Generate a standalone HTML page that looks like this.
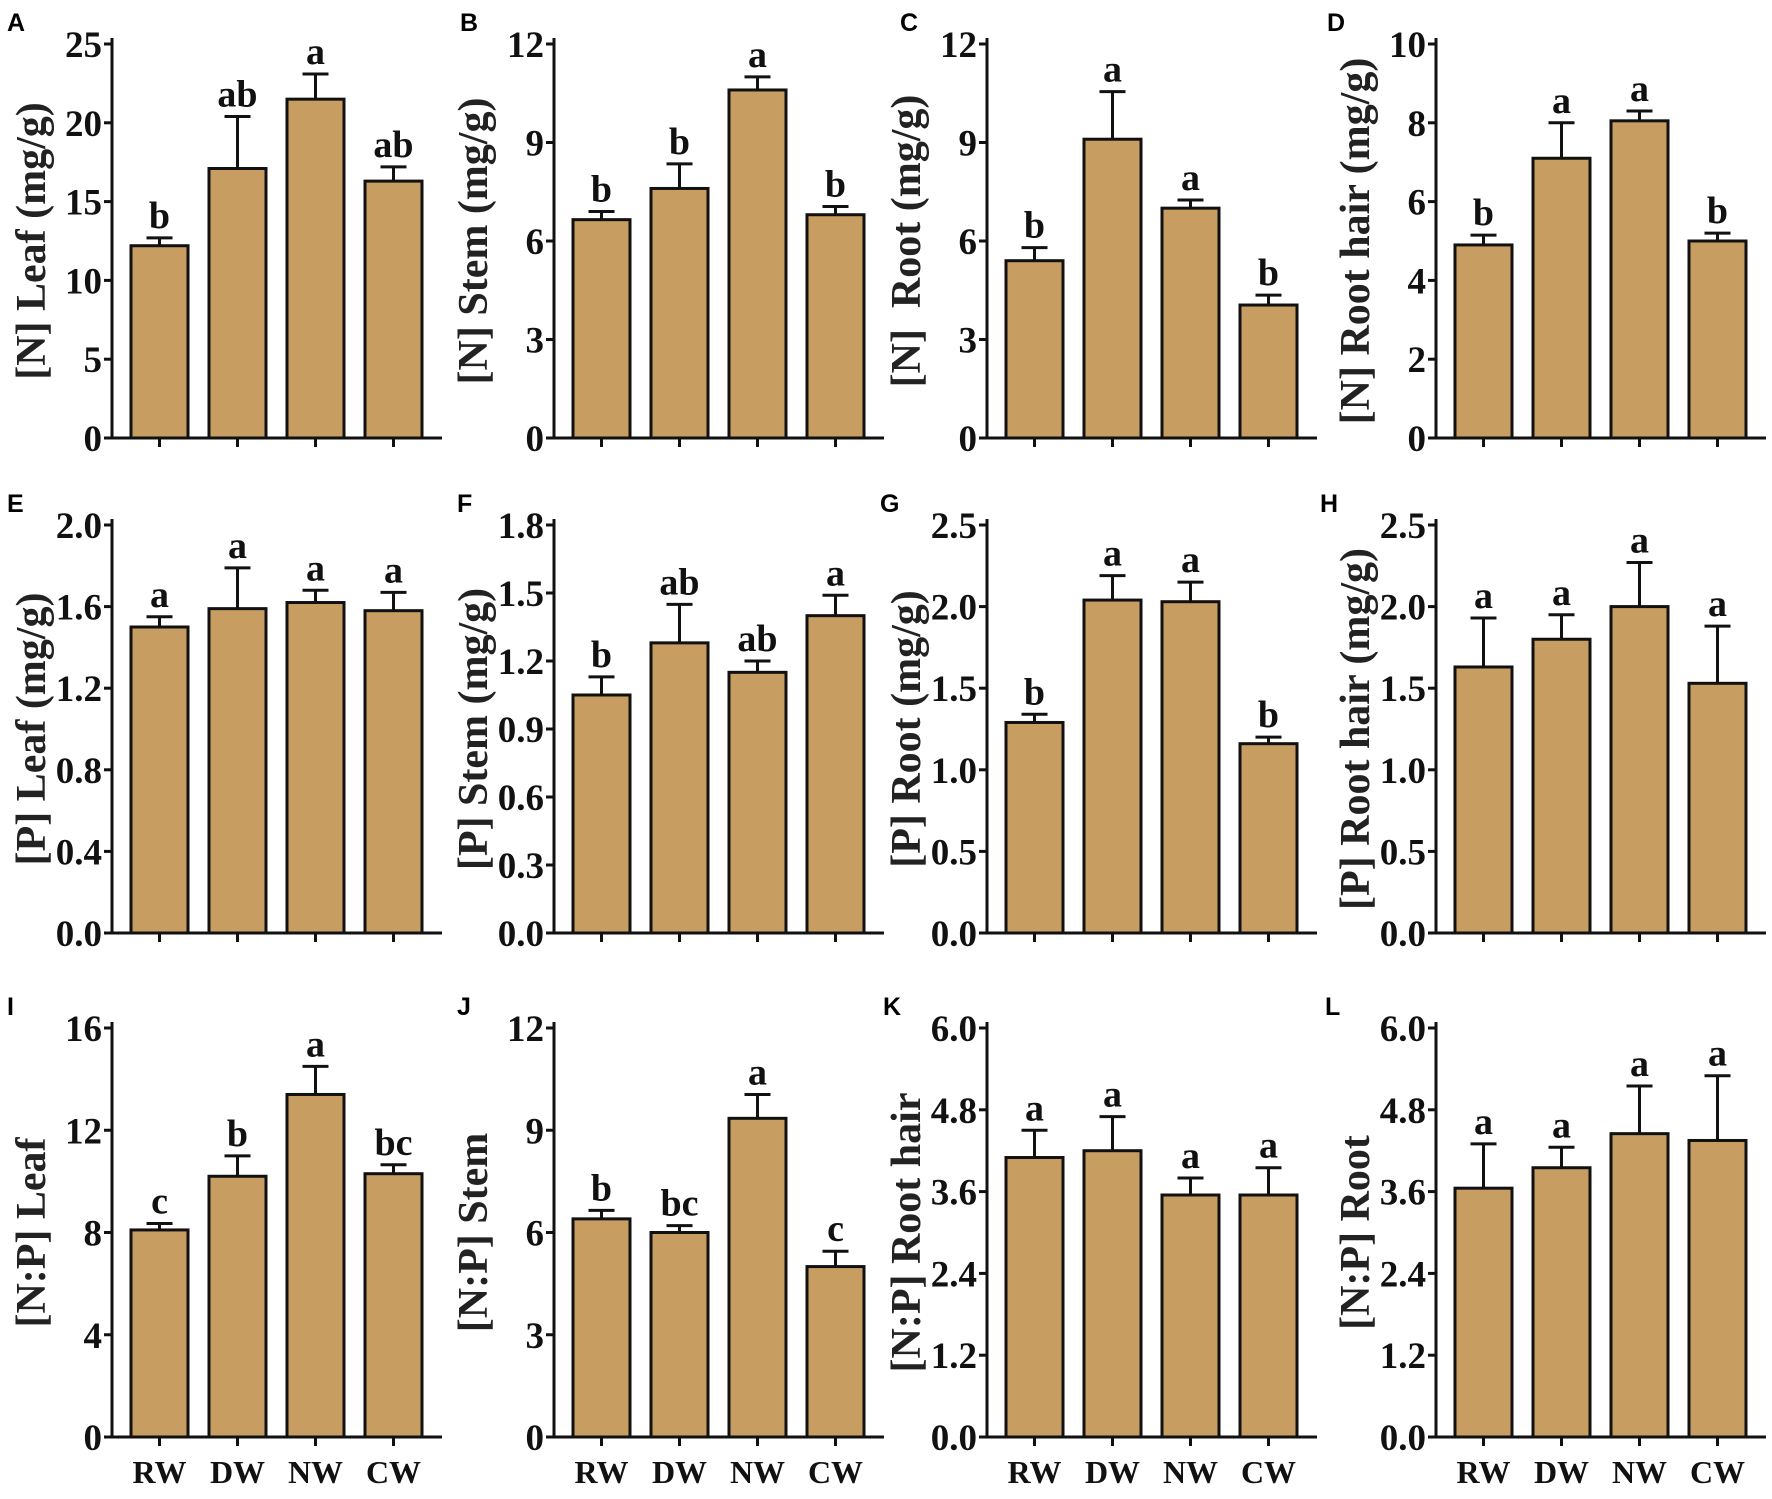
<!DOCTYPE html>
<html><head><meta charset="utf-8">
<style>
html,body{margin:0;padding:0;background:#fff;}
svg{display:block;}
</style></head>
<body>
<svg id="fig" width="1772" height="1499" viewBox="0 0 1772 1499" xmlns="http://www.w3.org/2000/svg"></svg>
<script>
const categories = ["RW","DW","NW","CW"];
const valsA = [12.2, 17.1, 21.5, 16.3]; const errA = [0.5, 3.3, 1.6, 0.9]; const sigA = ["b","ab","a","ab"];
const valsB = [6.65, 7.6, 10.6, 6.8]; const errB = [0.25, 0.75, 0.4, 0.25]; const sigB = ["b","b","a","b"];
const valsC = [5.4, 9.1, 7.0, 4.05]; const errC = [0.4, 1.45, 0.25, 0.3]; const sigC = ["b","a","a","b"];
const valsD = [4.9, 7.1, 8.05, 5.0]; const errD = [0.25, 0.9, 0.25, 0.2]; const sigD = ["b","a","a","b"];
const valsE = [1.5, 1.59, 1.62, 1.58]; const errE = [0.05, 0.2, 0.06, 0.09]; const sigE = ["a","a","a","a"];
const valsF = [1.05, 1.28, 1.15, 1.40]; const errF = [0.08, 0.17, 0.05, 0.09]; const sigF = ["b","ab","ab","a"];
const valsG = [1.29, 2.04, 2.03, 1.16]; const errG = [0.05, 0.15, 0.12, 0.04]; const sigG = ["b","a","a","b"];
const valsH = [1.63, 1.80, 2.0, 1.53]; const errH = [0.3, 0.15, 0.27, 0.35]; const sigH = ["a","a","a","a"];
const valsI = [8.1, 10.2, 13.4, 10.3]; const errI = [0.25, 0.8, 1.1, 0.35]; const sigI = ["c","b","a","bc"];
const valsJ = [6.4, 6.0, 9.35, 5.0]; const errJ = [0.25, 0.2, 0.7, 0.45]; const sigJ = ["b","bc","a","c"];
const valsK = [4.1, 4.2, 3.55, 3.55]; const errK = [0.4, 0.5, 0.25, 0.4]; const sigK = ["a","a","a","a"];
const valsL = [3.65, 3.95, 4.45, 4.35]; const errL = [0.65, 0.3, 0.7, 0.95]; const sigL = ["a","a","a","a"];
const ticksA = [0,5,10,15,20,25];
const ticksB = [0,3,6,9,12];
const ticksD = [0,2,4,6,8,10];
const ticksE = ["0.0","0.4","0.8","1.2","1.6","2.0"];
const ticksF = ["0.0","0.3","0.6","0.9","1.2","1.5","1.8"];
const ticksG = ["0.0","0.5","1.0","1.5","2.0","2.5"];
const ticksI = [0,4,8,12,16];
const ticksK = ["0.0","1.2","2.4","3.6","4.8","6.0"];

const NS = "http://www.w3.org/2000/svg";
const svg = document.getElementById("fig");
const FILL = "#C89D62";
function mk(tag, attrs, parent){
  const e = document.createElementNS(NS, tag);
  for (const k in attrs) e.setAttribute(k, attrs[k]);
  (parent||svg).appendChild(e);
  return e;
}
const colX = [112, 554, 987, 1436];
const rowY = [[438, 44], [933, 525], [1437, 1028]];
const panels = [
  {id:"A",c:0,r:0,v:valsA,e:errA,s:sigA,t:ticksA,title:"[N] Leaf (mg/g)",lx:7},
  {id:"B",c:1,r:0,v:valsB,e:errB,s:sigB,t:ticksB,title:"[N] Stem (mg/g)",lx:460},
  {id:"C",c:2,r:0,v:valsC,e:errC,s:sigC,t:ticksB,title:"[N]  Root (mg/g)",lx:900},
  {id:"D",c:3,r:0,v:valsD,e:errD,s:sigD,t:ticksD,title:"[N] Root hair (mg/g)",lx:1327},
  {id:"E",c:0,r:1,v:valsE,e:errE,s:sigE,t:ticksE,title:"[P] Leaf (mg/g)",lx:7},
  {id:"F",c:1,r:1,v:valsF,e:errF,s:sigF,t:ticksF,title:"[P] Stem (mg/g)",lx:457},
  {id:"G",c:2,r:1,v:valsG,e:errG,s:sigG,t:ticksG,title:"[P] Root (mg/g)",lx:880},
  {id:"H",c:3,r:1,v:valsH,e:errH,s:sigH,t:ticksG,title:"[P] Root hair (mg/g)",lx:1320},
  {id:"I",c:0,r:2,v:valsI,e:errI,s:sigI,t:ticksI,title:"[N:P] Leaf",lx:7},
  {id:"J",c:1,r:2,v:valsJ,e:errJ,s:sigJ,t:ticksB,title:"[N:P] Stem",lx:457},
  {id:"K",c:2,r:2,v:valsK,e:errK,s:sigK,t:ticksK,title:"[N:P] Root hair",lx:883},
  {id:"L",c:3,r:2,v:valsL,e:errL,s:sigL,t:ticksK,title:"[N:P] Root",lx:1325}
];
const SERIF = '"Liberation Serif", serif';
panels.forEach(p => {
  const x0 = colX[p.c], y0 = rowY[p.r][0], yTop = rowY[p.r][1];
  const tmin = parseFloat(p.t[0]), tmax = parseFloat(p.t[p.t.length-1]);
  const yS = v => y0 - (v - tmin) / (tmax - tmin) * (y0 - yTop);
  const xS = i => x0 + 19 + i * 78;
  const g = mk("g", {});
  
  
  const L = mk("text", {x:p.lx, y:yTop - 13, "font-family":'"Liberation Sans", sans-serif', "font-weight":"bold", "font-size":"25"}, g);
  L.textContent = p.id;
  
  
  p.v.forEach((v, i) => {
    const bx = xS(i), top = yS(v), et = yS(v + p.e[i]), cx = bx + 28.5;
    const eb = mk("line", {x1:cx, x2:cx, y1:top, y2:et, stroke:"#111", "stroke-width":"3"}, g);
    
    
    const cap = mk("line", {x1:cx-13, x2:cx+13, y1:et, y2:et, stroke:"#111", "stroke-width":"3"}, g);
    
    
    const r = mk("rect", {x:bx, y:top, width:57, height:y0 - top, fill:FILL, stroke:"#111", "stroke-width":"3"}, g);
    
    
    const s = mk("text", {x:cx, y:et - 10, "text-anchor":"middle", "font-family":SERIF, "font-weight":"bold", "font-size":"38", fill:"#111"}, g);
    s.textContent = p.s[i];
    
    
    const xt = mk("line", {x1:cx, x2:cx, y1:y0, y2:y0 + 9, stroke:"#111", "stroke-width":"3"}, g);
    
    
    if (p.r === 2) {
      const xl = mk("text", {x:cx, y:y0 + 46, "text-anchor":"middle", "font-family":SERIF, "font-weight":"bold", "font-size":"32", fill:"#111"}, g);
      xl.textContent = categories[i];
      
      
    }
  });
  const ya = mk("line", {x1:x0, x2:x0, y1:yTop - 6, y2:y0 + 1.5, stroke:"#111", "stroke-width":"3"}, g);
  
  
  const xa = mk("line", {x1:x0 - 2, x2:x0 + 330, y1:y0, y2:y0, stroke:"#111", "stroke-width":"3"}, g);
  
  
  p.t.forEach(t => {
    const ty = yS(parseFloat(t));
    const tk = mk("line", {x1:x0 - 8, x2:x0, y1:ty, y2:ty, stroke:"#111", "stroke-width":"3"}, g);
    
    
    const tl = mk("text", {x:x0 - 10, y:ty + 13, "text-anchor":"end", "font-family":SERIF, "font-weight":"bold", "font-size":"37", fill:"#111"}, g);
    tl.textContent = t;
    
    
  });
  const cy = (y0 + yTop) / 2, tx = x0 - 80;
  const yt = mk("text", {x:tx, y:cy, transform:`rotate(-90 ${tx} ${cy})`, "text-anchor":"middle", "dominant-baseline":"central", "font-family":SERIF, "font-weight":"bold", "font-size":"42", fill:"#222", style:"white-space:pre"}, g);
  yt.textContent = p.title;
  
  
});
</script>
</body></html>
